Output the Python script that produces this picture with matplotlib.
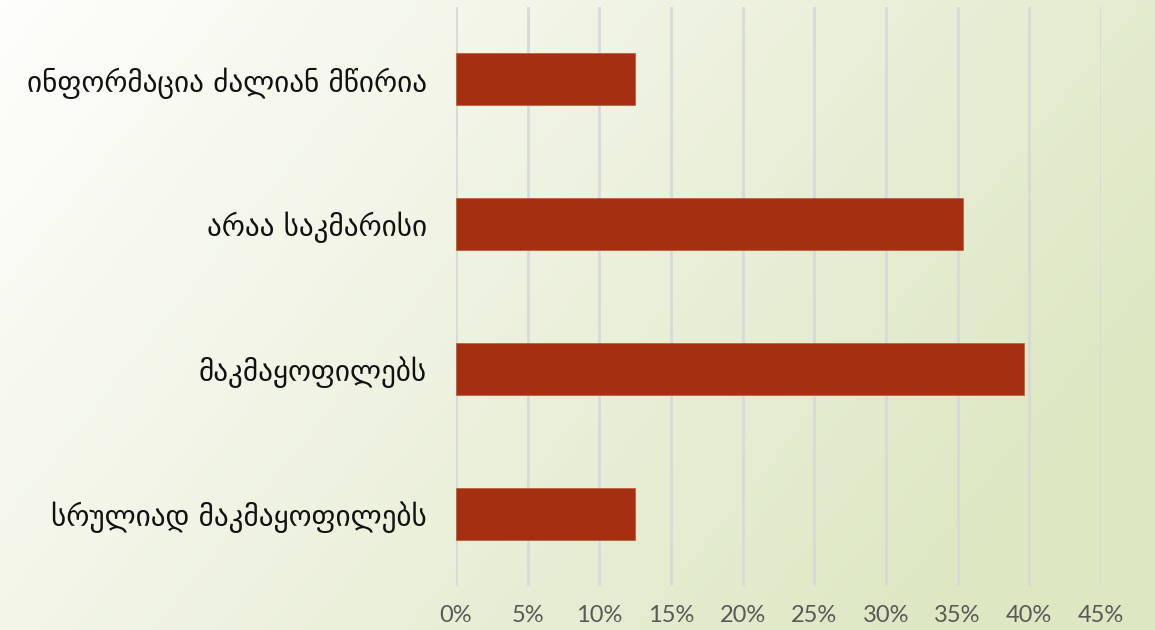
import numpy as np
import matplotlib.pyplot as plt
from matplotlib.ticker import PercentFormatter
from matplotlib.colors import LinearSegmentedColormap

categories = ["ინფორმაცია ძალიან მწირია", "არაა საკმარისი",
              "მაკმაყოფილებს", "სრულიად მაკმაყოფილებს"]
values = [0.125, 0.354, 0.396, 0.125]
ticks = [0, 0.05, 0.10, 0.15, 0.20, 0.25, 0.30, 0.35, 0.40, 0.45]

fig = plt.figure(figsize=(11.55, 6.3), dpi=100)

# background gradient, white top-left to pale green bottom-right
bg = fig.add_axes([0, 0, 1, 1], zorder=0)
xx, yy = np.meshgrid(np.linspace(0, 1, 300), np.linspace(0, 1, 200))
grad = np.clip(0.8 * xx + 0.35 * yy, 0, 1)
cmap = LinearSegmentedColormap.from_list("bg", ["#fefefc", "#eef2e0", "#dde7c2"])
bg.imshow(grad, cmap=cmap, aspect="auto", extent=[0, 1, 0, 1], origin="upper")
bg.axis("off")

ax = fig.add_axes([456 / 1155, 1 - 586 / 630, 645 / 1155, 579 / 630], zorder=1)
ax.patch.set_alpha(0)

y = np.arange(len(categories))
ax.barh(y, values, height=0.36, color="#a52f11", edgecolor="#c0603f", linewidth=0.6, zorder=3)
ax.set_ylim(len(categories) - 0.5, -0.5)
ax.set_xlim(0, 0.45)
ax.set_xticks(ticks)
ax.xaxis.set_major_formatter(PercentFormatter(1.0, decimals=0))
ax.set_yticks(y)
ax.set_yticklabels(categories, fontsize=21, color="#111111", family="DejaVu Sans")
ax.tick_params(axis="y", length=0, pad=21)
ax.tick_params(axis="x", length=0, pad=14)
for lbl in ax.get_xticklabels():
    lbl.set_fontfamily("Lato")
    lbl.set_fontsize(17)
    lbl.set_color("#595959")

ax.grid(axis="x", color="#d9d9d9", linewidth=2, zorder=0)
for s in ax.spines.values():
    s.set_visible(False)

fig.savefig("out.png", dpi=100)
